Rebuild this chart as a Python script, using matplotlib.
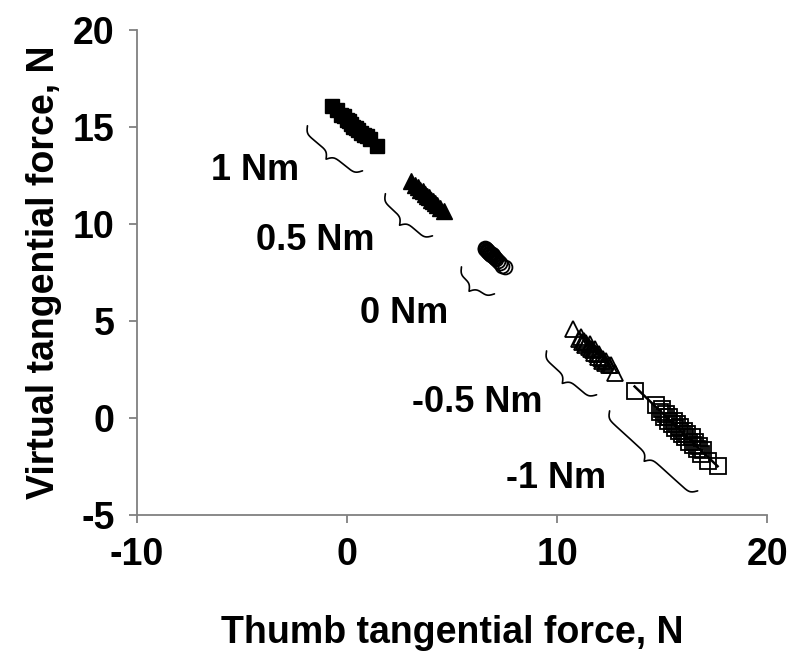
import numpy as np
import matplotlib
matplotlib.use("Agg")
import matplotlib.pyplot as plt

# torque conditions
labels = ["1 Nm", "0.5 Nm", "0 Nm", "-0.5 Nm", "-1 Nm"]

sq1_x = [-0.69, -0.45, -0.3, -0.15, 0.0, 0.1, 0.2, 0.3, 0.42, 0.55, 0.68, 0.8, 0.95, 1.1, 1.45]
sq1_y = [16.05, 15.85, 15.6, 15.55, 15.35, 15.3, 15.15, 15.0, 14.95, 14.85, 14.7, 14.6, 14.55, 14.35, 14.0]

tri1_x = [3.07, 3.25, 3.4, 3.5, 3.6, 3.7, 3.8, 3.9, 4.0, 4.1, 4.2, 4.3, 4.45, 4.64]
tri1_y = [12.2, 12.0, 11.9, 11.75, 11.7, 11.55, 11.45, 11.4, 11.25, 11.15, 11.05, 10.95, 10.8, 10.64]

circ_x = [6.55, 6.58, 6.62, 6.65, 6.68, 6.7, 6.73, 6.76, 6.8, 6.83, 6.86, 6.9, 6.93, 6.97, 7.0, 7.05, 7.1, 7.18, 7.3, 7.4, 7.5]
circ_y = [8.74, 8.68, 8.72, 8.62, 8.66, 8.55, 8.6, 8.5, 8.47, 8.52, 8.4, 8.44, 8.35, 8.38, 8.28, 8.25, 8.18, 8.1, 7.98, 7.85, 7.76]

tri2_x = [10.74, 11.05, 11.15, 11.2, 11.3, 11.35, 11.4, 11.5, 11.55, 11.6, 11.7, 11.75, 11.8, 11.9,
          11.95, 12.0, 12.1, 12.15, 12.2, 12.3, 12.35, 12.45, 12.55, 12.74]
tri2_y = [4.56, 4.05, 4.15, 3.9, 3.95, 3.75, 3.85, 3.65, 3.8, 3.55, 3.5, 3.35, 3.55, 3.3,
          3.15, 3.3, 3.1, 2.95, 3.05, 2.85, 2.95, 2.7, 2.75, 2.3]

sq2_x = [13.69, 14.69, 14.9, 15.0, 15.1, 15.2, 15.3, 15.35, 15.45, 15.55, 15.6, 15.7, 15.8, 15.85,
         15.95, 16.05, 16.1, 16.2, 16.3, 16.4, 16.45, 16.55, 16.65, 16.75, 16.85, 16.95, 17.17, 17.64]
sq2_y = [1.37, 0.64, 0.3, 0.45, 0.05, 0.2, -0.15, 0.05, -0.3, -0.15, -0.5, -0.3, -0.7, -0.45,
         -0.85, -0.7, -1.0, -0.85, -1.25, -1.0, -1.4, -1.25, -1.6, -1.45, -1.85, -1.65, -2.24, -2.5]

# label positions and brace end points (data units)
label_pos = [(-4.36, 12.73), (-1.5, 9.12), (2.74, 5.36), (6.21, 0.77), (9.93, -3.14)]
brace_ends = [((-1.88, 15.05), (0.74, 12.73)),
              ((1.83, 11.55), (4.07, 9.38)),
              ((5.45, 7.78), (7.02, 6.39)),
              ((9.5, 3.45), (11.88, 1.19)),
              ((12.5, 0.36), (16.69, -3.76))]

plt.rcParams['font.family'] = ['Liberation Sans', 'DejaVu Sans']
plt.rcParams['font.weight'] = 'bold'
plt.rcParams['axes.unicode_minus'] = False

fig = plt.figure(figsize=(8, 6.61), dpi=100)
ax = fig.add_axes([0.171, 0.221, 0.788, 0.734])
ax.set_xlim(-10, 20)
ax.set_ylim(-5, 20)


def draw_brace(ax, p0, p1, depth=14, beta=0.45):
    # curly brace in pixel space, bulging to the lower left
    a = ax.transData.transform(p0)
    b = ax.transData.transform(p1)
    d = b - a
    L = np.hypot(*d)
    u = d / L
    n = np.array([u[1], -u[0]])
    half = np.linspace(0, L / 2, 150)
    yh = 1 / (1 + np.exp(-beta * (half - half[0]))) + 1 / (1 + np.exp(-beta * (half - half[-1])))
    yh = yh - yh[0]
    yh = yh / yh[-1]
    s = np.concatenate((half, L - half[-2::-1]))
    y = np.concatenate((yh, yh[-2::-1])) * depth
    pts = a + np.outer(s, u) + np.outer(y, n)
    data = ax.transData.inverted().transform(pts)
    ax.plot(data[:, 0], data[:, 1], color='black', lw=1.2, solid_capstyle='round')


ax.plot(sq1_x, sq1_y, 's', ms=10.5, mfc='black', mec='black', mew=1)
ax.plot(tri1_x, tri1_y, '^', ms=11, mfc='black', mec='black', mew=1)
ax.plot(circ_x, circ_y, 'o', ms=10, mfc='none', mec='black', mew=1.3)
ax.plot(tri2_x, tri2_y, '^', ms=11, mfc='none', mec='black', mew=1.3)
ax.plot(sq2_x, sq2_y, 's', ms=11, mfc='none', mec='black', mew=1.3)

# trend line through the -1 Nm cluster
k, c = np.polyfit(sq2_x, sq2_y, 1)
xl = np.array([min(sq2_x), max(sq2_x)])
ax.plot(xl, k * xl + c, color='black', lw=1.8)

for (p0, p1) in brace_ends:
    draw_brace(ax, p0, p1)

for lab, (lx, ly) in zip(labels, label_pos):
    ax.text(lx, ly, lab, fontsize=26, fontweight='bold', ha='center', va='center')

for s in ['top', 'right']:
    ax.spines[s].set_visible(False)
for s in ['left', 'bottom']:
    ax.spines[s].set_color('#808080')
    ax.spines[s].set_linewidth(1.3)

ax.set_xticks([-10, 0, 10, 20])
ax.set_yticks([-5, 0, 5, 10, 15, 20])
ax.tick_params(direction='out', length=6, width=1.3, color='#808080', labelsize=27, pad=10)
for t in ax.get_xticklabels() + ax.get_yticklabels():
    t.set_fontweight('bold')

ax.set_xlabel("Thumb tangential force, N", fontsize=27, fontweight='bold', labelpad=30)
ax.set_ylabel("Virtual tangential force, N", fontsize=27, fontweight='bold', labelpad=8)

fig.savefig("out.png", dpi=100)
